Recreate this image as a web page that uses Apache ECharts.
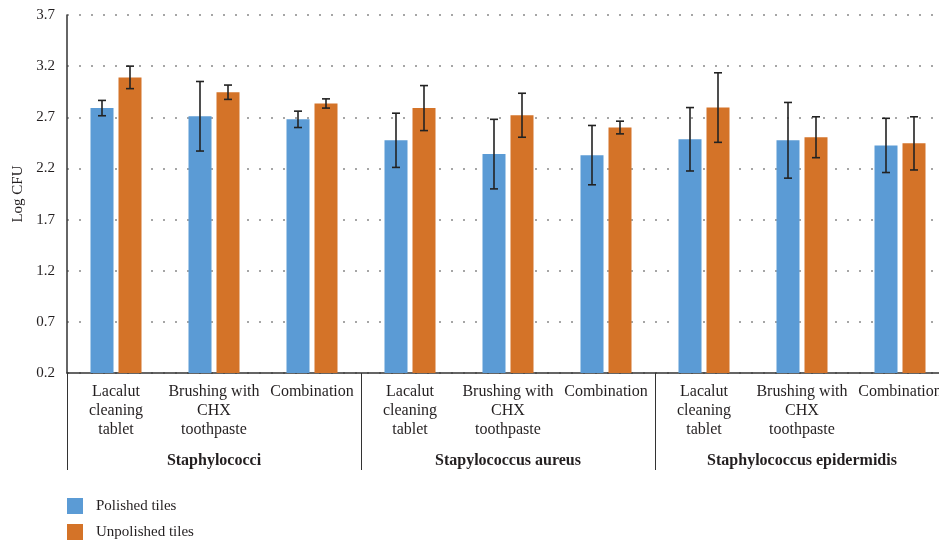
<!DOCTYPE html>
<html>
<head>
<meta charset="utf-8">
<script src="https://cdn.jsdelivr.net/npm/echarts@6/dist/echarts.min.js"></script>
<style>
html,body{margin:0;padding:0;background:#fff;}
#chart{width:939px;height:542px;}
</style>
</head>
<body>
<div id="chart"></div>
<script>
var categories = [
  'Lacalut\ncleaning\ntablet', 'Brushing with\nCHX\ntoothpaste', 'Combination',
  'Lacalut\ncleaning\ntablet', 'Brushing with\nCHX\ntoothpaste', 'Combination',
  'Lacalut\ncleaning\ntablet', 'Brushing with\nCHX\ntoothpaste', 'Combination'
];
var groups = ['Staphylococci', 'Stapylococcus aureus', 'Staphylococcus epidermidis'];
var seriesNames = ['Polished tiles', 'Unpolished tiles'];
var polished = [2.79, 2.71, 2.68, 2.475, 2.34, 2.33, 2.485, 2.475, 2.425];
var polishedErr = [0.075, 0.34, 0.08, 0.265, 0.34, 0.29, 0.31, 0.37, 0.265];
var unpolished = [3.09, 2.945, 2.835, 2.79, 2.72, 2.60, 2.795, 2.505, 2.445];
var unpolishedErr = [0.11, 0.07, 0.045, 0.22, 0.215, 0.062, 0.34, 0.2, 0.26];
var yMin = 0.2, yMax = 3.7, yStep = 0.5;

var FONT = 'Liberation Serif';
var TXT = '#231f20';
var BLUE = '#5b9bd5';
var ORANGE = '#d47328';
var BAR_W = 23, BAR_GAP = 5;

function errData(means, errs) {
  return means.map(function (m, i) { return [i, m, errs[i]]; });
}
function errSeries(means, errs, side) {
  return {
    type: 'custom',
    xAxisIndex: 0, yAxisIndex: 0,
    z: 5,
    silent: true,
    data: errData(means, errs),
    encode: { x: 0, y: 1 },
    renderItem: function (params, api) {
      var i = api.value(0), m = api.value(1), e = api.value(2);
      var off = side * (BAR_W + BAR_GAP) / 2;
      var hi = api.coord([i, m + e]);
      var lo = api.coord([i, m - e]);
      var x = hi[0] + off;
      var cap = 4;
      var st = { stroke: '#222', lineWidth: 1.6 };
      return {
        type: 'group',
        children: [
          { type: 'line', shape: { x1: x, y1: hi[1], x2: x, y2: lo[1] }, style: st },
          { type: 'line', shape: { x1: x - cap, y1: hi[1], x2: x + cap, y2: hi[1] }, style: st },
          { type: 'line', shape: { x1: x - cap, y1: lo[1], x2: x + cap, y2: lo[1] }, style: st }
        ]
      };
    }
  };
}

var chart = echarts.init(document.getElementById('chart'), null, { renderer: 'canvas' });
chart.setOption({
  animation: false,
  backgroundColor: '#fff',
  textStyle: { fontFamily: FONT, color: TXT },
  grid: { left: 67, top: 15, width: 882, height: 358, containLabel: false, outerBoundsMode: 'none' },
  legend: {
    data: seriesNames,
    orient: 'vertical',
    left: 67, top: 498,
    padding: 0,
    height: 60,
    itemWidth: 16, itemHeight: 16, itemGap: 10,
    icon: 'rect',
    textStyle: { fontFamily: FONT, fontSize: 15, color: TXT, padding: [0, 0, 0, 8] }
  },
  xAxis: [
    {
      type: 'category',
      data: categories,
      position: 'bottom',
      axisLine: { show: true, lineStyle: { color: '#333', width: 1.5 } },
      axisTick: { show: false },
      axisLabel: { interval: 0, margin: 9, fontFamily: FONT, fontSize: 16, lineHeight: 19, color: TXT }
    },
    {
      type: 'category',
      data: groups,
      position: 'bottom',
      axisLine: { show: false },
      axisTick: { show: true, length: 97, lineStyle: { color: '#333', width: 1 } },
      axisLabel: { interval: 0, margin: 78, fontFamily: FONT, fontSize: 16, fontWeight: 'bold', lineHeight: 19, color: TXT }
    }
  ],
  yAxis: {
    type: 'value',
    min: yMin, max: yMax, interval: yStep,
    name: 'Log CFU',
    nameLocation: 'middle',
    nameGap: 40,
    nameTextStyle: { fontFamily: FONT, fontSize: 15, color: TXT },
    axisLine: { show: true, lineStyle: { color: '#333', width: 1.5 } },
    axisTick: { show: false },
    axisLabel: { margin: 12, fontFamily: FONT, fontSize: 15, color: TXT,
      formatter: function (v) { return v.toFixed(1); } },
    splitLine: { show: true, lineStyle: { color: '#a6a6a6', width: 2, type: [2, 10] } }
  },
  series: [
    { name: seriesNames[0], type: 'bar', data: polished, barWidth: BAR_W, barGap: (BAR_GAP / BAR_W * 100) + '%',
      itemStyle: { color: BLUE }, xAxisIndex: 0 },
    { name: seriesNames[1], type: 'bar', data: unpolished, barWidth: BAR_W, barGap: (BAR_GAP / BAR_W * 100) + '%',
      itemStyle: { color: ORANGE }, xAxisIndex: 0 },
    errSeries(polished, polishedErr, -1),
    errSeries(unpolished, unpolishedErr, 1)
  ]
});
</script>
</body>
</html>
